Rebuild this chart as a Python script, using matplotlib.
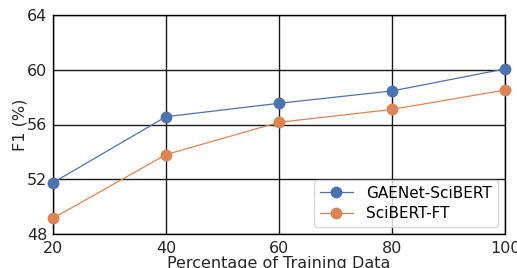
import matplotlib
matplotlib.use('Agg')
import matplotlib.pyplot as plt

# Data
pct = [20, 40, 60, 80, 100]
gaenet = [51.75, 56.57, 57.55, 58.45, 60.06]
scibert = [49.15, 53.8, 56.16, 57.1, 58.52]
yticks = [48, 52, 56, 60, 64]

colors = ['#4C72B0', '#DD8452']

plt.rcParams['font.family'] = ['DejaVu Sans']

fig = plt.figure(figsize=(5.17, 2.68), dpi=100)
ax = fig.add_axes([53/517, 1-234/268, (505-53)/517, (234-15)/268])

ax.plot(pct, gaenet, marker='o', ms=7.5, lw=0.9, color=colors[0],
        label='GAENet-SciBERT', zorder=3, clip_on=False)
ax.plot(pct, scibert, marker='o', ms=7.5, lw=0.9, color=colors[1],
        label='SciBERT-FT', zorder=3, clip_on=False)

ax.set_xlim(20, 100)
ax.set_ylim(48, 64)
ax.set_xticks(pct)
ax.set_yticks(yticks)

ax.grid(True, color='#1a1a1a', lw=1.0, zorder=1)
ax.set_axisbelow(True)
for s in ax.spines.values():
    s.set_color('black')
    s.set_linewidth(1.0)

ax.tick_params(axis='both', length=0, labelsize=11.5, labelcolor='#262626')
ax.tick_params(axis='x', pad=5)
ax.tick_params(axis='y', pad=4)
ax.set_xlabel('Percentage of Training Data', fontsize=11.5, color='#262626', labelpad=0)
ax.set_ylabel('F1 (%)', fontsize=11.5, color='#262626', labelpad=0)

ax.legend(loc='lower right', fontsize=11, frameon=True, fancybox=True,
          framealpha=0.8, edgecolor='#cccccc', borderaxespad=0.45,
          handlelength=2.1, labelspacing=0.35, handletextpad=0.9)

fig.savefig('out.png', dpi=100)
